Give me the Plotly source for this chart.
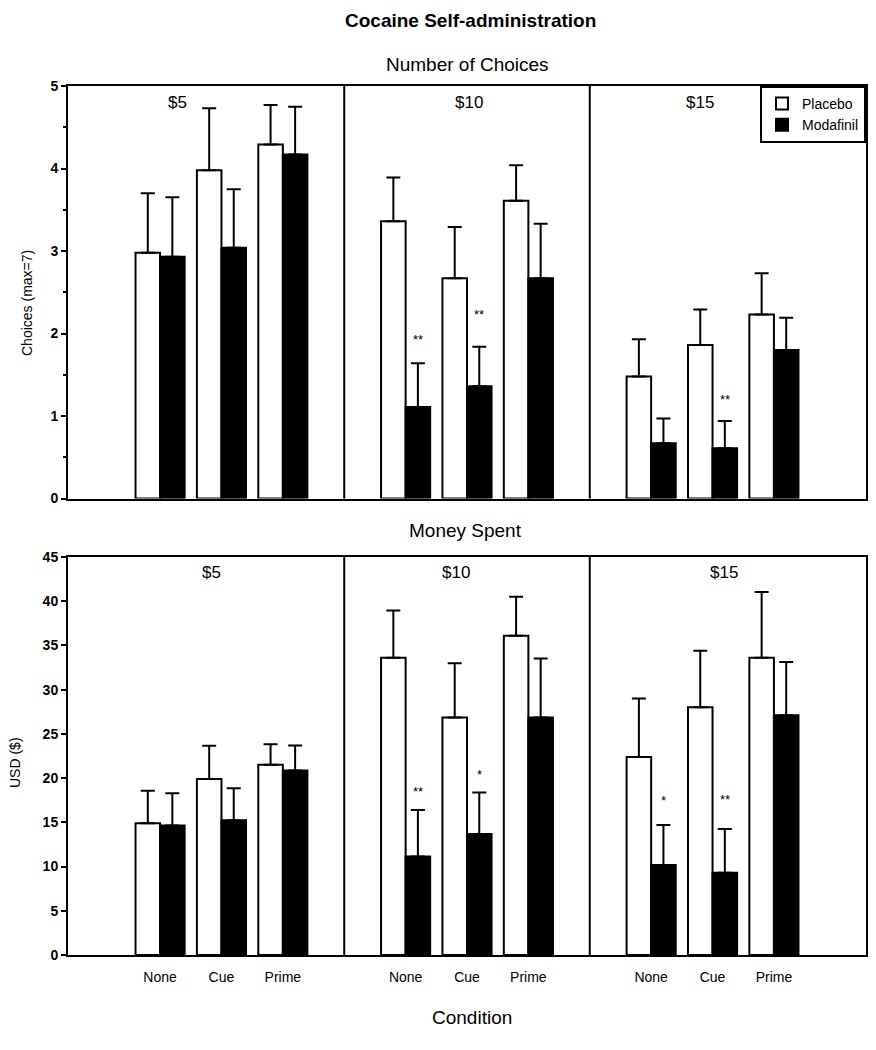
import plotly.graph_objects as go

# ---------------- data ----------------
prices = ["$5", "$10", "$15"]
conditions = ["None", "Cue", "Prime"]

# Number of choices (max = 7); order: $5 (None, Cue, Prime), $10 (...), $15 (...)
choices_placebo = [2.98, 3.98, 4.29, 3.36, 2.67, 3.61, 1.48, 1.86, 2.23]
choices_placebo_err = [0.72, 0.75, 0.48, 0.53, 0.62, 0.43, 0.45, 0.43, 0.50]
choices_modafinil = [2.93, 3.04, 4.17, 1.11, 1.36, 2.67, 0.67, 0.61, 1.80]
choices_modafinil_err = [0.72, 0.71, 0.58, 0.53, 0.48, 0.66, 0.30, 0.33, 0.39]
choices_stars = ["", "", "", "**", "**", "", "", "**", ""]
choices_star_y = [0, 0, 0, 1.93, 2.23, 0, 0, 1.20, 0]

# Money spent (USD)
money_placebo = [14.9, 19.9, 21.5, 33.6, 26.85, 36.1, 22.4, 28.0, 33.6]
money_placebo_err = [3.66, 3.77, 2.34, 5.36, 6.15, 4.41, 6.6, 6.41, 7.43]
money_modafinil = [14.63, 15.24, 20.86, 11.13, 13.69, 26.85, 10.18, 9.31, 27.12]
money_modafinil_err = [3.66, 3.62, 2.82, 5.27, 4.68, 6.68, 4.53, 4.95, 6.0]
money_stars = ["", "", "", "**", "*", "", "*", "**", ""]
money_star_y = [0, 0, 0, 18.5, 20.4, 0, 17.5, 17.6, 0]

# ---------------- layout helpers ----------------
OFF = 8                      # default page body margin
W, H = 876 - 2 * OFF, 1050 - 2 * OFF
# plot area in screen pixels
SX0, SX1 = 68, 866
SY_TOP, SY_BOT = 86, 955
TOP_PANEL_BOTTOM, BOT_PANEL_TOP = 498.5, 557
ML = SX0 - OFF
MR = W - (SX1 - OFF)
MT = SY_TOP - OFF
MB = H - (SY_BOT - OFF)
PW, PH = W - ML - MR, H - MT - MB


def py(sy):
    return (SY_BOT - sy) / PH


def px(sx):
    return (sx - SX0) / PW


# slot positions: three groups per price panel, one empty slot between panels
xpos = [pi * 4 + ci + 1 for pi in range(len(prices)) for ci in range(len(conditions))]
xlabels = [c for _ in prices for c in conditions]
dividers = [pi * 4 for pi in range(1, len(prices))]

FONT = "Liberation Sans"
fig = go.Figure()


def add_bars(xa, ya, pl, ple, mo, moe, show):
    fig.add_trace(go.Bar(
        x=xpos, y=pl, name="Placebo", xaxis=xa, yaxis=ya, showlegend=show,
        marker=dict(color="white", line=dict(color="black", width=2)),
        error_y=dict(type="data", array=ple, arrayminus=[0] * len(ple), symmetric=False,
                     color="black", thickness=2, width=7),
    ))
    fig.add_trace(go.Bar(
        x=xpos, y=mo, name="Modafinil", xaxis=xa, yaxis=ya, showlegend=show,
        marker=dict(color="black", line=dict(color="black", width=2)),
        error_y=dict(type="data", array=moe, arrayminus=[0] * len(moe), symmetric=False,
                     color="black", thickness=2, width=7),
    ))


add_bars("x", "y", choices_placebo, choices_placebo_err, choices_modafinil, choices_modafinil_err, True)
add_bars("x2", "y2", money_placebo, money_placebo_err, money_modafinil, money_modafinil_err, False)

axis_common = dict(showline=True, mirror=True, linecolor="black", linewidth=2,
                   showgrid=False, zeroline=False)

fig.update_layout(
    width=W, height=H,
    margin=dict(l=ML, r=MR, t=MT, b=MB, autoexpand=False),
    paper_bgcolor="white", plot_bgcolor="white",
    font=dict(family=FONT, color="black"),
    barmode="group", bargap=0.2, bargroupgap=0,
    xaxis=dict(domain=[0, 1], anchor="y", range=[-0.5, 12.5], showticklabels=False,
               ticks="", **axis_common),
    yaxis=dict(domain=[py(TOP_PANEL_BOTTOM), 1], anchor="x", range=[0, 5], dtick=1,
               ticks="outside", ticklen=5, tickwidth=2, tickcolor="black",
               tickfont=dict(size=14, weight="bold", family=FONT),
               minor=dict(dtick=0.5, ticks="outside", ticklen=3, tickwidth=2, tickcolor="black"),
               **axis_common),
    xaxis2=dict(domain=[0, 1], anchor="y2", range=[-0.5, 12.5], tickmode="array",
                tickvals=xpos, ticktext=xlabels, ticks="", ticklabelstandoff=8,
                tickfont=dict(size=14, family=FONT), **axis_common),
    yaxis2=dict(domain=[0, py(BOT_PANEL_TOP)], anchor="x2", range=[0, 45], dtick=5,
                ticks="outside", ticklen=5, tickwidth=2, tickcolor="black",
                tickfont=dict(size=14, weight="bold", family=FONT),
                **axis_common),
    legend=dict(x=1, y=1, xanchor="right", yanchor="top", bgcolor="white",
                bordercolor="black", borderwidth=2, font=dict(size=14, family=FONT),
                tracegroupgap=4),
    showlegend=True,
)

# panel dividers
for xa, ya in (("x", "y"), ("x2", "y2")):
    for d in dividers:
        fig.add_shape(type="line", xref=xa, yref=f"{ya} domain", x0=d, x1=d, y0=0, y1=1,
                      line=dict(color="black", width=2))

annotations = []


def paper_text(text, sx, sy, size, angle=0):
    annotations.append(dict(text=text, x=px(sx), y=py(sy), xref="paper", yref="paper",
                            xanchor="center", yanchor="middle", showarrow=False,
                            textangle=angle, font=dict(size=size, color="black")))


paper_text("<b>Cocaine Self-administration</b>", 470, 20, 19)
paper_text("Number of Choices", 467, 64, 19)
paper_text("Money Spent", 465, 530, 19)
paper_text("Condition", 472, 1017, 19)
paper_text("Choices (max=7)", 27, 303, 14, -90)
paper_text("USD ($)", 15, 763, 14, -90)

# price labels per panel
top_label_x = [1.29, 6.03, 9.79]
bot_label_x = [1.83, 5.82, 10.19]
for i, p in enumerate(prices):
    annotations.append(dict(text=p, x=top_label_x[i], y=py(103), xref="x", yref="paper",
                            xanchor="center", yanchor="middle", showarrow=False,
                            font=dict(size=17)))
    annotations.append(dict(text=p, x=bot_label_x[i], y=py(572), xref="x2", yref="paper",
                            xanchor="center", yanchor="middle", showarrow=False,
                            font=dict(size=17)))

# significance stars over modafinil bars
for xv, s, yv in zip(xpos, choices_stars, choices_star_y):
    if s:
        annotations.append(dict(text=s, x=xv + 0.2, y=yv, xref="x", yref="y",
                                yanchor="middle", showarrow=False, font=dict(size=13)))
for xv, s, yv in zip(xpos, money_stars, money_star_y):
    if s:
        annotations.append(dict(text=s, x=xv + 0.2, y=yv, xref="x2", yref="y2",
                                yanchor="middle", showarrow=False, font=dict(size=13)))

fig.update_layout(annotations=annotations)
fig.write_html("out.html")
